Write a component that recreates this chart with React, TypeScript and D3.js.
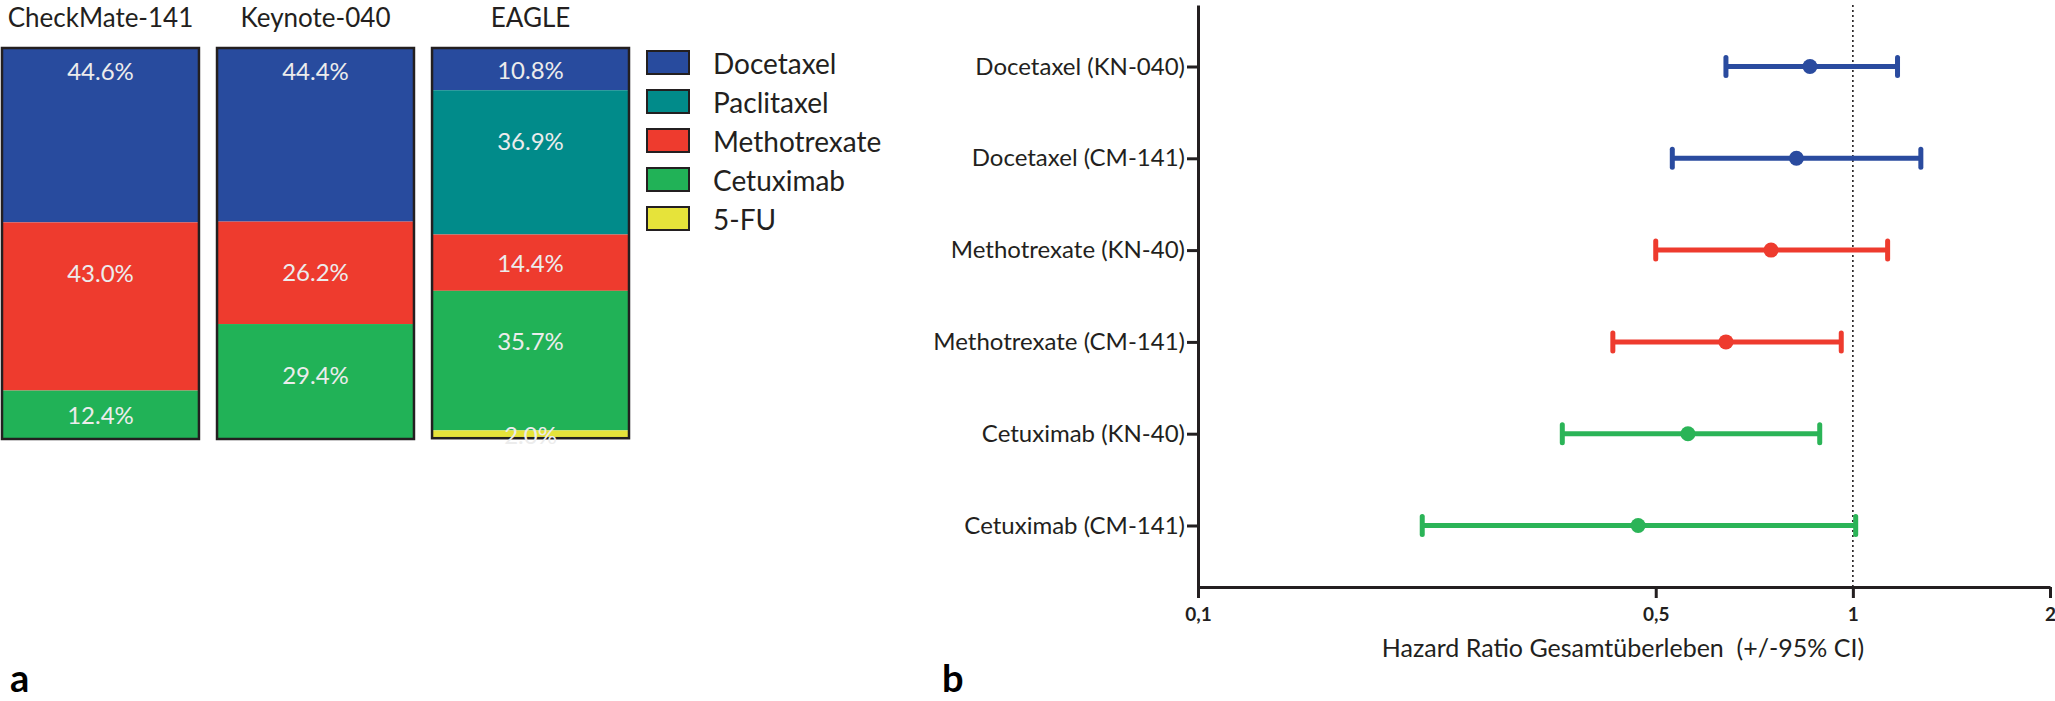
import { useEffect, useRef } from "react";
import * as d3 from "d3";

// panel a: treatment shares (%) per study
const studies = ["CheckMate-141", "Keynote-040", "EAGLE"];
const drugs = ["Docetaxel", "Paclitaxel", "Methotrexate", "Cetuximab", "5-FU"];
const docetaxelShare = [44.6, 44.4, 10.8];
const paclitaxelShare = [0, 0, 36.9];
const methotrexateShare = [43.0, 26.2, 14.4];
const cetuximabShare = [12.4, 29.4, 35.7];
const fluorouracilShare = [0, 0, 2.0];

// panel b: hazard ratios for overall survival
const forestLabels = [
  "Docetaxel (KN-040)",
  "Docetaxel (CM-141)",
  "Methotrexate (KN-40)",
  "Methotrexate (CM-141)",
  "Cetuximab (KN-40)",
  "Cetuximab (CM-141)",
];
const forestDrug = ["Docetaxel", "Docetaxel", "Methotrexate", "Methotrexate", "Cetuximab", "Cetuximab"];
const hazardRatio = [0.86, 0.82, 0.75, 0.64, 0.56, 0.47];
const ciLower = [0.64, 0.53, 0.5, 0.43, 0.36, 0.22];
const ciUpper = [1.17, 1.27, 1.13, 0.96, 0.89, 1.01];
const xTicks = [0.1, 0.5, 1, 2];

const W = 2055;
const H = 701;
const FONT = "Lato, 'Open Sans', sans-serif";
const INK = "#231f20";

const barColors: Record<string, string> = {
  Docetaxel: "#284b9e",
  Paclitaxel: "#018b8a",
  Methotrexate: "#ee3b2e",
  Cetuximab: "#21b257",
  "5-FU": "#e6e33a",
};
const forestColors: Record<string, string> = {
  Docetaxel: "#2a4b9f",
  Methotrexate: "#ee3b2e",
  Cetuximab: "#2bb457",
};

export default function App() {
  const svgRef = useRef<SVGSVGElement>(null);

  useEffect(() => {
    const svg = d3.select(svgRef.current);
    svg.selectAll("*").remove();
    svg.append("rect").attr("width", W).attr("height", H).attr("fill", "#fff");

    // ---------- panel a: stacked bars ----------
    const shares: Record<string, number[]> = {
      Docetaxel: docetaxelShare,
      Paclitaxel: paclitaxelShare,
      Methotrexate: methotrexateShare,
      Cetuximab: cetuximabShare,
      "5-FU": fluorouracilShare,
    };
    const rows = studies.map((s, i) => {
      const r: Record<string, any> = { study: s };
      drugs.forEach((d) => (r[d] = shares[d][i]));
      return r;
    });
    const stack = d3.stack<any>().keys(drugs)(rows);

    const xBar = d3.scaleBand<string>().domain(studies).range([2, 629]).paddingInner(0.084);
    const yBar = d3.scaleLinear().domain([0, 100]).range([48, 439]);

    const a = svg.append("g");

    stack.forEach((layer) => {
      layer.forEach((seg, i) => {
        const v = seg[1] - seg[0];
        if (v <= 0) return;
        const study = studies[i];
        a.append("rect")
          .attr("x", xBar(study)!)
          .attr("y", yBar(seg[0]))
          .attr("width", xBar.bandwidth())
          .attr("height", yBar(seg[1]) - yBar(seg[0]))
          .attr("fill", barColors[layer.key]);
      });
    });

    // outlines
    studies.forEach((s, i) => {
      const total = d3.sum(drugs, (d) => shares[d][i]);
      a.append("rect")
        .attr("x", xBar(s)!)
        .attr("y", yBar(0))
        .attr("width", xBar.bandwidth())
        .attr("height", yBar(total) - yBar(0))
        .attr("fill", "none")
        .attr("stroke", INK)
        .attr("stroke-width", 2.5);
    });

    // value labels
    stack.forEach((layer) => {
      layer.forEach((seg, i) => {
        const v = seg[1] - seg[0];
        if (v <= 0) return;
        const top = yBar(seg[0]);
        const h = yBar(seg[1]) - top;
        const first = seg[0] === 0;
        const y = top + Math.min(h / 2, first ? 22 : 50);
        a.append("text")
          .attr("x", xBar(studies[i])! + xBar.bandwidth() / 2)
          .attr("y", y)
          .attr("text-anchor", "middle")
          .attr("dominant-baseline", "central")
          .attr("font-family", FONT)
          .attr("font-size", 24)
          .attr("fill", "#ececec")
          .text(`${v.toFixed(1)}%`);
      });
    });

    // study titles
    studies.forEach((s) => {
      a.append("text")
        .attr("x", xBar(s)! + xBar.bandwidth() / 2)
        .attr("y", 27)
        .attr("text-anchor", "middle")
        .attr("font-family", FONT)
        .attr("font-size", 26)
        .attr("fill", INK)
        .text(s);
    });

    // legend
    const legend = a.append("g").attr("transform", "translate(647,51)");
    drugs.forEach((d, i) => {
      legend.append("rect")
        .attr("x", 0)
        .attr("y", i * 39)
        .attr("width", 42)
        .attr("height", 23)
        .attr("fill", barColors[d])
        .attr("stroke", INK)
        .attr("stroke-width", 2);
      legend.append("text")
        .attr("x", 66)
        .attr("y", i * 39 + 12)
        .attr("dominant-baseline", "central")
        .attr("font-family", FONT)
        .attr("font-size", 28)
        .attr("fill", INK)
        .text(d);
    });

    // ---------- panel b: forest plot ----------
    const x = d3.scaleLog().domain([0.1, 2]).range([1198, 2050]);
    const y = d3.scalePoint<string>().domain(forestLabels).range([5, 587]).padding(0.67);
    const axisY = 587;

    const b = svg.append("g");

    // reference line at HR = 1
    b.append("line")
      .attr("x1", x(1))
      .attr("x2", x(1))
      .attr("y1", 5)
      .attr("y2", axisY)
      .attr("stroke", INK)
      .attr("stroke-width", 1.6)
      .attr("stroke-dasharray", "2,3");

    // y axis
    const yAxis = b.append("g")
      .attr("transform", `translate(${x(0.1)},0)`)
      .call(d3.axisLeft(y).tickSize(11).tickSizeOuter(0).tickPadding(2));
    yAxis.select(".domain").attr("stroke", INK).attr("stroke-width", 3);
    yAxis.selectAll(".tick line").attr("stroke", INK).attr("stroke-width", 3);
    yAxis.selectAll(".tick text")
      .attr("font-family", FONT)
      .attr("font-size", 24)
      .attr("fill", INK);

    // x axis
    const xAxis = b.append("g")
      .attr("transform", `translate(0,${axisY})`)
      .call(
        d3.axisBottom(x)
          .tickValues(xTicks)
          .tickSize(11)
          .tickSizeOuter(0)
          .tickPadding(10)
          .tickFormat((d) => String(d).replace(".", ","))
      );
    xAxis.select(".domain").attr("stroke", INK).attr("stroke-width", 3);
    xAxis.selectAll(".tick line").attr("stroke", INK).attr("stroke-width", 3);
    xAxis.selectAll(".tick text")
      .attr("font-family", FONT)
      .attr("font-size", 19)
      .attr("font-weight", "bold")
      .attr("fill", INK);

    b.append("text")
      .attr("x", 1623)
      .attr("y", 657)
      .attr("text-anchor", "middle")
      .attr("font-family", FONT)
      .attr("font-size", 25)
      .attr("fill", INK)
      .style("white-space", "pre")
      .text("Hazard Ratio Gesamtüberleben  (+/-95% CI)");

    // error bars and points
    forestLabels.forEach((lab, i) => {
      const cy = y(lab)!;
      const col = forestColors[forestDrug[i]];
      b.append("line")
        .attr("x1", x(ciLower[i]))
        .attr("x2", x(ciUpper[i]))
        .attr("y1", cy)
        .attr("y2", cy)
        .attr("stroke", col)
        .attr("stroke-width", 5);
      [ciLower[i], ciUpper[i]].forEach((v) => {
        b.append("line")
          .attr("x1", x(v))
          .attr("x2", x(v))
          .attr("y1", cy - 9)
          .attr("y2", cy + 9)
          .attr("stroke", col)
          .attr("stroke-width", 5)
          .attr("stroke-linecap", "round");
      });
      b.append("circle")
        .attr("cx", x(hazardRatio[i]))
        .attr("cy", cy)
        .attr("r", 7.5)
        .attr("fill", col);
    });

    // panel letters
    [["a", 10], ["b", 942]].forEach(([t, px]) => {
      svg.append("text")
        .attr("x", px as number)
        .attr("y", 692)
        .attr("font-family", FONT)
        .attr("font-size", 38)
        .attr("font-weight", "bold")
        .attr("fill", "#000")
        .text(t as string);
    });
  }, []);

  return (
    <svg
      ref={svgRef}
      width={W}
      height={H}
      style={{ position: "absolute", left: 0, top: 0 }}
    />
  );
}
